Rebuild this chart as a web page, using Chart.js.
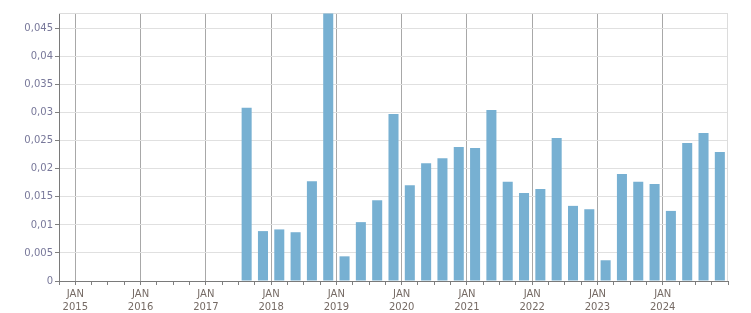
<!DOCTYPE html>
<html>
<head>
  <meta charset="UTF-8">
  <title>Quarterly chart</title>
  <script src="https://cdn.jsdelivr.net/npm/chart.js"></script>
  <style>
    html, body { margin: 0; padding: 0; background: #fff; }
    #wrap { width: 751px; height: 313px; position: relative; }
  </style>
</head>
<body>
<div id="wrap"><canvas id="chart"></canvas></div>
<script>
// quarters with data, Q3 2017 .. Q4 2024
const quarters = [
  '2017 Q3', '2017 Q4',
  '2018 Q1', '2018 Q2', '2018 Q3', '2018 Q4',
  '2019 Q1', '2019 Q2', '2019 Q3', '2019 Q4',
  '2020 Q1', '2020 Q2', '2020 Q3', '2020 Q4',
  '2021 Q1', '2021 Q2', '2021 Q3', '2021 Q4',
  '2022 Q1', '2022 Q2', '2022 Q3', '2022 Q4',
  '2023 Q1', '2023 Q2', '2023 Q3', '2023 Q4',
  '2024 Q1', '2024 Q2', '2024 Q3', '2024 Q4'
];
const values = [
  0.0309, 0.0089,
  0.0092, 0.0087, 0.0178, 0.0477,
  0.0044, 0.0105, 0.0144, 0.0298,
  0.0171, 0.0210, 0.0219, 0.0239,
  0.0237, 0.0305, 0.0177, 0.0157,
  0.0164, 0.0255, 0.0134, 0.0128,
  0.0037, 0.0191, 0.0177, 0.0173,
  0.0125, 0.0246, 0.0264, 0.0230
];
const yearLabels = ['2015', '2016', '2017', '2018', '2019', '2020', '2021', '2022', '2023', '2024'];
const monthLabel = 'JAN';
const yTicks = [0, 0.005, 0.01, 0.015, 0.02, 0.025, 0.03, 0.035, 0.04, 0.045];

// axis runs from Oct 2014 to Jan 2025, in fractional years
const xMin = 2014.75, xMax = 2025, yMax = 0.0478;

function quarterMid(q) {
  const [y, n] = q.split(' Q');
  return Number(y) + (Number(n) - 1) * 0.25 + 0.125;
}
const points = quarters.map((q, i) => ({ x: quarterMid(q), y: values[i] }));

const isYear = v => Math.abs(v - Math.round(v)) < 1e-6;
const fmt = v => String(Number(v.toFixed(3))).replace('.', ',');

const frame = {
  id: 'frame',
  beforeDatasetsDraw(chart) {
    const { ctx, chartArea: a } = chart;
    ctx.save();
    ctx.strokeStyle = '#dcdcdc';
    ctx.lineWidth = 1;
    ctx.beginPath();
    ctx.moveTo(a.left, a.top + 0.5);
    ctx.lineTo(a.right - 0.5, a.top + 0.5);
    ctx.lineTo(a.right - 0.5, a.bottom);
    ctx.stroke();
    ctx.restore();
  }
};

new Chart(document.getElementById('chart'), {
  type: 'bar',
  data: {
    datasets: [{
      data: points,
      backgroundColor: '#77b0d2',
      barPercentage: 0.75,
      categoryPercentage: 0.82
    }]
  },
  options: {
    responsive: true,
    maintainAspectRatio: false,
    animation: false,
    layout: { padding: { top: 13, right: 23, left: 0, bottom: 0 } },
    plugins: { legend: { display: false }, tooltip: { enabled: false } },
    scales: {
      x: {
        type: 'linear',
        min: xMin,
        max: xMax,
        offset: false,
        afterFit: s => { s.height = 32; },
        border: { color: '#7a7a7a', width: 1 },
        grid: {
          offset: false,
          color: c => (c.tick && isYear(c.tick.value) && c.tick.value < xMax) ? '#a8a8a8' : 'rgba(0,0,0,0)',
          tickColor: '#808080',
          tickLength: 4
        },
        ticks: {
          stepSize: 0.25,
          autoSkip: false,
          maxRotation: 0,
          minRotation: 0,
          padding: 3,
          color: '#756a64',
          font: { family: 'DejaVu Sans', size: 10, lineHeight: 1.3 },
          callback: v => {
            const i = yearLabels.indexOf(String(Math.round(v)));
            return (isYear(v) && i >= 0) ? [monthLabel, yearLabels[i]] : '';
          }
        }
      },
      y: {
        min: 0,
        max: yMax,
        afterFit: s => { s.width = 59; },
        afterBuildTicks: s => { s.ticks = yTicks.map(v => ({ value: v })).concat([{ value: yMax }]); },
        border: { color: '#7a7a7a', width: 1 },
        grid: {
          color: '#e0e0e0',
          tickColor: c => (c.tick && c.tick.value === yMax) ? 'rgba(0,0,0,0)' : '#808080',
          tickLength: 4
        },
        ticks: {
          padding: 2,
          color: '#78789a',
          font: { family: 'DejaVu Sans', size: 10 },
          callback: v => v === yMax ? '' : fmt(v)
        }
      }
    }
  },
  plugins: [frame]
});
</script>
</body>
</html>
